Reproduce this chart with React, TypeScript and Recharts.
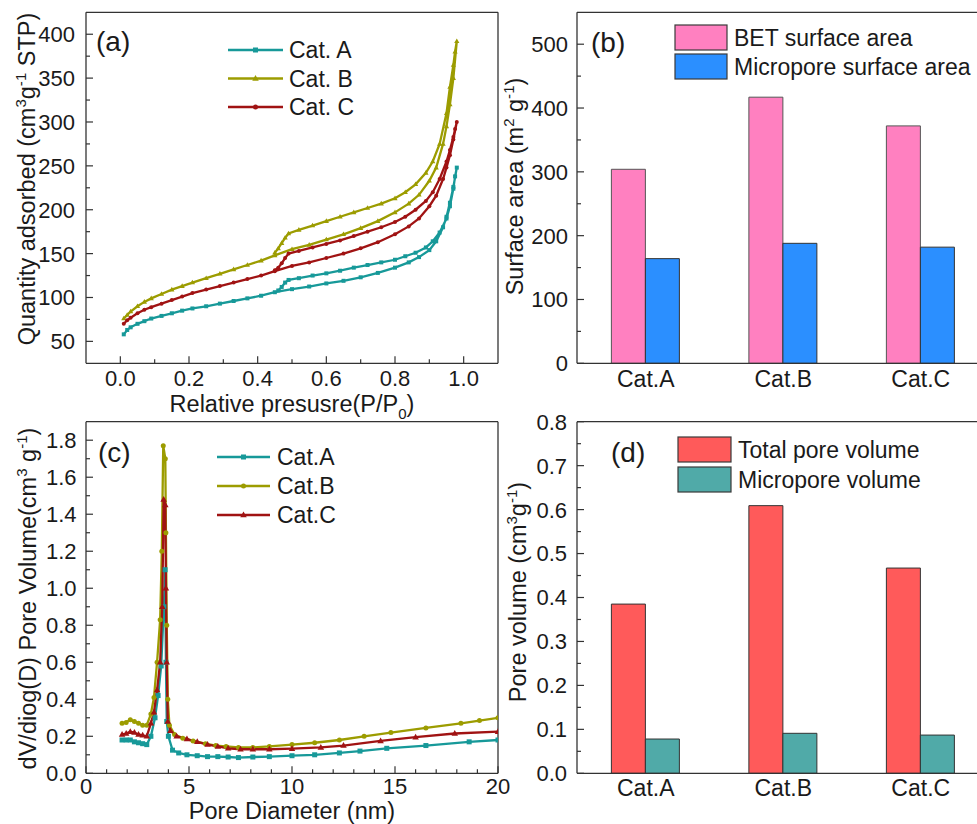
import React from 'react';
import { LineChart, Line, XAxis, YAxis, BarChart, Bar, Legend, ReferenceLine } from 'recharts';

const FONT = '"Liberation Sans", Arial, Helvetica, sans-serif';
const INK = '#1a1a1a';
const AXIS = '#333333';
const TICK_FS = 22;
const TITLE_FS = 23.5;
const LEG_FS = 23;

// ---------- Panel (a): N2 isotherms [P/P0, quantity adsorbed]
const isoA_ads: [number, number][] = [
  [0.01, 58], [0.02, 63], [0.03, 66], [0.05, 70], [0.07, 73], [0.09, 76], [0.12, 79], [0.15, 82],
  [0.18, 85], [0.21, 87.5], [0.25, 90], [0.29, 93], [0.33, 96], [0.37, 99], [0.41, 102], [0.45, 106],
  [0.5, 109.5], [0.55, 112.5], [0.6, 116], [0.65, 119], [0.7, 123], [0.75, 128], [0.8, 134], [0.84, 140],
  [0.87, 146], [0.9, 154], [0.92, 164], [0.94, 180], [0.95, 192], [0.96, 208], [0.97, 226], [0.98, 248],
];
const isoA_des: [number, number][] = [
  [0.975, 238], [0.97, 224], [0.96, 204], [0.95, 190], [0.93, 174], [0.91, 164], [0.89, 157], [0.86, 151],
  [0.83, 147], [0.8, 143], [0.76, 140], [0.72, 137], [0.68, 134], [0.64, 130.5], [0.6, 127.5], [0.56, 125],
  [0.52, 122], [0.49, 120], [0.48, 117], [0.47, 112], [0.46, 108],
];
const isoB_ads: [number, number][] = [
  [0.01, 76], [0.02, 80], [0.03, 84], [0.05, 90], [0.07, 95], [0.09, 99], [0.12, 104], [0.15, 109],
  [0.18, 113], [0.21, 117], [0.25, 122], [0.29, 127], [0.33, 132], [0.37, 137], [0.41, 142], [0.45, 148],
  [0.5, 155], [0.55, 160], [0.6, 166], [0.65, 172], [0.7, 179], [0.75, 187], [0.8, 197], [0.84, 207],
  [0.87, 217], [0.9, 233], [0.92, 248], [0.94, 275], [0.95, 295], [0.96, 320], [0.97, 350], [0.98, 392],
];
const isoB_des: [number, number][] = [
  [0.975, 380], [0.97, 365], [0.96, 340], [0.95, 310], [0.93, 275], [0.91, 255], [0.89, 242], [0.86, 229],
  [0.83, 220], [0.8, 213], [0.76, 207], [0.72, 202], [0.68, 197], [0.64, 192], [0.6, 187], [0.56, 182],
  [0.52, 177], [0.49, 173], [0.48, 168], [0.47, 162], [0.46, 156], [0.45, 151],
];
const isoC_ads: [number, number][] = [
  [0.01, 70], [0.02, 74], [0.03, 77], [0.05, 82], [0.07, 86], [0.09, 89], [0.12, 93], [0.15, 97],
  [0.18, 101], [0.21, 105], [0.25, 109], [0.29, 113], [0.33, 117], [0.37, 121], [0.41, 125], [0.45, 130],
  [0.5, 136], [0.55, 140], [0.6, 145], [0.65, 150], [0.7, 156], [0.75, 163], [0.8, 172], [0.84, 181],
  [0.87, 190], [0.9, 204], [0.92, 216], [0.94, 235], [0.95, 248], [0.96, 262], [0.97, 280], [0.98, 300],
];
const isoC_des: [number, number][] = [
  [0.975, 292], [0.97, 283], [0.96, 268], [0.95, 255], [0.93, 235], [0.91, 220], [0.89, 210], [0.86, 200],
  [0.83, 192], [0.8, 186], [0.76, 180], [0.72, 175], [0.68, 170], [0.64, 165], [0.6, 161], [0.56, 157],
  [0.52, 153], [0.49, 150], [0.48, 145], [0.47, 139], [0.46, 134], [0.45, 131],
];

// ---------- Panel (b): surface areas
const categories = ['Cat.A', 'Cat.B', 'Cat.C'];
const betArea = [304, 417, 372];
const microArea = [164, 188, 182];

// ---------- Panel (c): pore size distributions [D (nm), dV/dlog(D)]
const psdA: [number, number][] = [
  [1.75, 0.18], [1.95, 0.18], [2.15, 0.18], [2.35, 0.17], [2.55, 0.165], [2.75, 0.16], [2.95, 0.155],
  [3.15, 0.2], [3.35, 0.3], [3.5, 0.42], [3.65, 0.58], [3.78, 0.9], [3.84, 1.1], [3.88, 0.6], [3.92, 0.28],
  [4.0, 0.2], [4.2, 0.125], [4.5, 0.11], [4.9, 0.1], [5.4, 0.095], [5.9, 0.09], [6.4, 0.09], [6.9, 0.088],
  [7.4, 0.085], [8.1, 0.088], [8.9, 0.09], [10.0, 0.095], [11.1, 0.1], [12.3, 0.11], [13.3, 0.12],
  [14.6, 0.135], [16.5, 0.15], [18.6, 0.17], [20, 0.18],
];
const psdB: [number, number][] = [
  [1.75, 0.27], [1.95, 0.275], [2.15, 0.29], [2.35, 0.28], [2.55, 0.27], [2.75, 0.26], [2.95, 0.26],
  [3.15, 0.32], [3.3, 0.41], [3.45, 0.6], [3.6, 0.83], [3.68, 1.2], [3.75, 1.77], [3.85, 1.7], [3.88, 1.3],
  [3.92, 0.8], [3.97, 0.4], [4.05, 0.26], [4.3, 0.21], [4.7, 0.19], [5.2, 0.175], [5.8, 0.16], [6.3, 0.15],
  [6.8, 0.145], [7.4, 0.14], [8.1, 0.14], [8.9, 0.145], [10.0, 0.155], [11.1, 0.165], [12.3, 0.18],
  [13.5, 0.2], [14.8, 0.22], [16.5, 0.245], [18.2, 0.27], [19.1, 0.285], [20, 0.3],
];
const psdC: [number, number][] = [
  [1.75, 0.21], [1.95, 0.215], [2.15, 0.225], [2.35, 0.22], [2.55, 0.21], [2.75, 0.205], [2.95, 0.2],
  [3.15, 0.27], [3.3, 0.33], [3.45, 0.45], [3.6, 0.6], [3.7, 0.9], [3.77, 1.48], [3.85, 1.45], [3.88, 1.0],
  [3.92, 0.6], [3.97, 0.28], [4.1, 0.23], [4.4, 0.2], [4.9, 0.185], [5.4, 0.17], [5.9, 0.155], [6.4, 0.145],
  [6.9, 0.135], [7.5, 0.13], [8.1, 0.13], [8.9, 0.13], [10.0, 0.133], [11.4, 0.14], [12.5, 0.15],
  [14.3, 0.175], [16.0, 0.195], [17.9, 0.215], [20, 0.225],
];

// ---------- Panel (d): pore volumes
const totalPoreVol = [0.385, 0.609, 0.467];
const microPoreVol = [0.078, 0.091, 0.087];

// ---------- tick lists
const aXMajor = [0, 0.2, 0.4, 0.6, 0.8, 1.0];
const aXMinor = [0.1, 0.3, 0.5, 0.7, 0.9];
const aYMajor = [50, 100, 150, 200, 250, 300, 350, 400];
const aYMinor = [75, 125, 175, 225, 275, 325, 375];
const bYMajor = [0, 100, 200, 300, 400, 500];
const bYMinor = [50, 150, 250, 350, 450];
const cXMajor = [0, 5, 10, 15, 20];
const cXMinor = [1, 2, 3, 4, 6, 7, 8, 9, 11, 12, 13, 14, 16, 17, 18, 19];
const cYMajor = [0, 0.2, 0.4, 0.6, 0.8, 1.0, 1.2, 1.4, 1.6, 1.8];
const cYMinor = [0.1, 0.3, 0.5, 0.7, 0.9, 1.1, 1.3, 1.5, 1.7];
const dYMajor = [0, 0.1, 0.2, 0.3, 0.4, 0.5, 0.6, 0.7, 0.8];
const dYMinor = [0.05, 0.15, 0.25, 0.35, 0.45, 0.55, 0.65, 0.75];

const isoNames = ['Cat. A', 'Cat. B', 'Cat. C'];
const psdNames = ['Cat.A', 'Cat.B', 'Cat.C'];
const lineColors = ['#179999', '#9c9c00', '#a01313'];
type Shape = 'square' | 'triangle' | 'circle';
const isoShapes: Shape[] = ['square', 'triangle', 'circle'];
const psdShapes: Shape[] = ['square', 'circle', 'triangle'];

const surfNames = ['BET surface area', 'Micropore surface area'];
const surfColors = ['#ff80c0', '#2b8fff'];
const volNames = ['Total pore volume', 'Micropore volume'];
const volColors = ['#ff5a5a', '#50aaa8'];

const toPts = (arr: [number, number][]) => arr.map(([x, y]) => ({ x, y }));
const isoData = [
  toPts([...isoA_ads, ...isoA_des]),
  toPts([...isoB_ads, ...isoB_des]),
  toPts([...isoC_ads, ...isoC_des]),
];
const psdData = [toPts(psdA), toPts(psdB), toPts(psdC)];
const surfaceRows = categories.map((c, i) => ({ cat: c, bet: betArea[i], micro: microArea[i] }));
const volumeRows = categories.map((c, i) => ({ cat: c, total: totalPoreVol[i], micro: microPoreVol[i] }));

function marker(shape: Shape, color: string, s: number, cx: number, cy: number, key?: any) {
  if (shape === 'square') return <rect key={key} x={cx - s / 2} y={cy - s / 2} width={s} height={s} fill={color} />;
  if (shape === 'triangle')
    return <path key={key} d={`M${cx},${cy - s * 0.7}L${cx + s * 0.65},${cy + s * 0.45}L${cx - s * 0.65},${cy + s * 0.45}Z`} fill={color} />;
  return <circle key={key} cx={cx} cy={cy} r={s / 2} fill={color} />;
}
const dotFn = (shape: Shape, color: string, s: number) => (p: any) => {
  const k = p.key ?? `d${p.index}`;
  if (p.cx == null || p.cy == null) return <g key={k} />;
  return marker(shape, color, s, p.cx, p.cy, k);
};

const isMajor = (majors: number[], v: number) => majors.some((m) => Math.abs(m - v) < 1e-9);

function yTick(plotX: number, majors: number[], fmt: (v: number) => string, gap: number) {
  return (p: any) => {
    const v = p.payload.value;
    const y = p.payload.coordinate ?? p.y;
    const mj = isMajor(majors, v);
    return (
      <g>
        <line x1={plotX} x2={plotX + (mj ? 7 : 4)} y1={y} y2={y} stroke={AXIS} strokeWidth={1.2} />
        {mj && (
          <text x={plotX - gap} y={y + TICK_FS * 0.36} textAnchor="end" fontSize={TICK_FS} fontFamily={FONT} fill={INK}>
            {fmt(v)}
          </text>
        )}
      </g>
    );
  };
}
function xTick(plotY: number, majors: number[], fmt: (v: any) => string, baseline: number, fs: number, lines = true) {
  return (p: any) => {
    const v = p.payload.value;
    const x = p.payload.coordinate ?? p.x;
    const mj = lines ? isMajor(majors, v) : true;
    return (
      <g>
        {lines && <line x1={x} x2={x} y1={plotY} y2={plotY - (mj ? 7 : 4)} stroke={AXIS} strokeWidth={1.2} />}
        {mj && (
          <text x={x} y={baseline} textAnchor="middle" fontSize={fs} fontFamily={FONT} fill={INK}>
            {fmt(v)}
          </text>
        )}
      </g>
    );
  };
}

type Part = { t: string; s?: 'sup' | 'sub' };
function titleText(parts: Part[], fs: number) {
  const out: any[] = [];
  let shift = 0;
  parts.forEach((pt, i) => {
    const target = pt.s === 'sup' ? -fs * 0.4 : pt.s === 'sub' ? fs * 0.3 : 0;
    out.push(
      <tspan key={i} dy={target - shift} fontSize={pt.s ? fs * 0.64 : fs}>
        {pt.t}
      </tspan>
    );
    shift = target;
  });
  return out;
}
const yTitle = (x: number, y: number, parts: Part[]) => () => (
  <text x={x} y={y} transform={`rotate(-90, ${x}, ${y})`} textAnchor="middle" fontSize={TITLE_FS} fontFamily={FONT} fill={INK}>
    {titleText(parts, TITLE_FS)}
  </text>
);
const xTitle = (x: number, y: number, parts: Part[]) => () => (
  <text x={x} y={y} textAnchor="middle" fontSize={TITLE_FS} fontFamily={FONT} fill={INK}>
    {titleText(parts, TITLE_FS)}
  </text>
);

function lineLegend(names: string[], shapes: Shape[], x1: number, x2: number, textX: number, rows: number[], w: number, h: number) {
  return () => (
    <svg width={w} height={h} style={{ display: 'block' }}>
      {names.map((n, i) => (
        <g key={n}>
          <line x1={x1} x2={x2} y1={rows[i]} y2={rows[i]} stroke={lineColors[i]} strokeWidth={2.6} />
          {marker(shapes[i], lineColors[i], 5, (x1 + x2) / 2, rows[i])}
          <text x={textX} y={rows[i] + LEG_FS * 0.36} fontSize={LEG_FS} fontFamily={FONT} fill={INK}>
            {n}
          </text>
        </g>
      ))}
    </svg>
  );
}
function boxLegend(names: string[], colors: string[], bx: number, bw: number, tops: number[], bh: number, textX: number, w: number, h: number) {
  return () => (
    <svg width={w} height={h} style={{ display: 'block' }}>
      {names.map((n, i) => (
        <g key={n}>
          <rect x={bx} y={tops[i]} width={bw} height={bh} fill={colors[i]} stroke="#3a3a3a" strokeWidth={1.2} />
          <text x={textX} y={tops[i] + bh / 2 + LEG_FS * 0.36} fontSize={LEG_FS} fontFamily={FONT} fill={INK}>
            {n}
          </text>
        </g>
      ))}
    </svg>
  );
}

const axisLine = { stroke: AXIS, strokeWidth: 1.3 };
const fmt1 = (v: number) => v.toFixed(1);
const fmt0 = (v: number) => String(Math.round(v));

export default function App() {
  return (
    <div style={{ position: 'fixed', left: 0, top: 0, width: 977, height: 824, overflow: 'hidden', background: '#fff' }}>
      {/* (a) */}
      <div style={{ position: 'absolute', left: 0, top: 0 }}>
        <LineChart width={510} height={432} margin={{ top: 12.3, right: 12, bottom: 0, left: 0 }}>
          <XAxis
            dataKey="x" type="number" domain={[-0.1, 1.1]} allowDataOverflow
            ticks={[...aXMajor, ...aXMinor]} interval={0} tickLine={false} height={68.7} axisLine={axisLine}
            tick={xTick(363.3, aXMajor, fmt1, 386, TICK_FS)}
            label={xTitle(292, 412, [{ t: 'Relative presusre(P/P' }, { t: '0', s: 'sub' }, { t: ')' }])}
          />
          <YAxis
            type="number" domain={[25, 425]} allowDataOverflow width={86}
            ticks={[...aYMajor, ...aYMinor]} interval={0} tickLine={false} axisLine={axisLine}
            tick={yTick(86, aYMajor, fmt0, 11)}
            label={yTitle(35, 179, [{ t: 'Quantity adsorbed (cm' }, { t: '3', s: 'sup' }, { t: 'g' }, { t: '-1', s: 'sup' }, { t: ' STP)' }])}
          />
          <ReferenceLine y={425} stroke={AXIS} strokeWidth={1.3} ifOverflow="visible" />
          <ReferenceLine x={1.1} stroke={AXIS} strokeWidth={1.3} ifOverflow="visible" />
          {isoData.map((d, i) => (
            <Line key={isoNames[i]} name={isoNames[i]} data={d} dataKey="y" stroke={lineColors[i]} strokeWidth={2.3}
              dot={dotFn(isoShapes[i], lineColors[i], 4)} activeDot={false} isAnimationActive={false} />
          ))}
          <Legend layout="vertical" align="center" verticalAlign="middle"
            wrapperStyle={{ left: 0, top: 0, width: 510, height: 140, pointerEvents: 'none' }}
            content={lineLegend(isoNames, isoShapes, 228, 283, 289, [50, 78.5, 107], 510, 140)} />
        </LineChart>
      </div>

      {/* (b) */}
      <div style={{ position: 'absolute', left: 490, top: 0 }}>
        <BarChart width={510} height={420} data={surfaceRows} margin={{ top: 12.3, right: 10.5, bottom: 0, left: 0 }}
          barCategoryGap="25%" barGap={0}>
          <XAxis dataKey="cat" height={56.7} tickLine={false} interval={0} axisLine={axisLine}
            tick={xTick(363.3, [], (v) => String(v), 386.7, 23, false)} />
          <YAxis type="number" domain={[0, 550]} allowDataOverflow width={87}
            ticks={[...bYMajor, ...bYMinor]} interval={0} tickLine={false} axisLine={axisLine}
            tick={yTick(87, bYMajor, fmt0, 9)}
            label={yTitle(33, 186.5, [{ t: 'Surface area (m' }, { t: '2', s: 'sup' }, { t: ' g' }, { t: '-1', s: 'sup' }, { t: ')' }])}
          />
          <ReferenceLine y={550} stroke={AXIS} strokeWidth={1.3} ifOverflow="visible" />
          <Bar dataKey="bet" name={surfNames[0]} fill={surfColors[0]} stroke="#555" strokeWidth={1} isAnimationActive={false} />
          <Bar dataKey="micro" name={surfNames[1]} fill={surfColors[1]} stroke="#333" strokeWidth={1} isAnimationActive={false} />
          <Legend layout="vertical" align="center" verticalAlign="middle"
            wrapperStyle={{ left: 0, top: 0, width: 510, height: 100, pointerEvents: 'none' }}
            content={boxLegend(surfNames, surfColors, 185, 52, [25, 54], 25, 244, 510, 100)} />
        </BarChart>
      </div>

      {/* (c) */}
      <div style={{ position: 'absolute', left: 0, top: 400 }}>
        <LineChart width={510} height={424} margin={{ top: 21.7, right: 12, bottom: 0, left: 0 }}>
          <XAxis
            dataKey="x" type="number" domain={[0, 20]} allowDataOverflow
            ticks={[...cXMajor, ...cXMinor]} interval={0} tickLine={false} height={50.7} axisLine={axisLine}
            tick={xTick(373.3, cXMajor, fmt0, 393.5, TICK_FS)}
            label={xTitle(292, 418.5, [{ t: 'Pore Diameter (nm)' }])}
          />
          <YAxis
            type="number" domain={[0, 1.9]} allowDataOverflow width={86}
            ticks={[...cYMajor, ...cYMinor]} interval={0} tickLine={false} axisLine={axisLine}
            tick={yTick(86, cYMajor, fmt1, 9.5)}
            label={yTitle(36, 198.5, [{ t: 'dV/diog(D) Pore Volume(cm' }, { t: '3', s: 'sup' }, { t: ' g' }, { t: '-1', s: 'sup' }, { t: ')' }])}
          />
          <ReferenceLine y={1.9} stroke={AXIS} strokeWidth={1.3} ifOverflow="visible" />
          <ReferenceLine x={20} stroke={AXIS} strokeWidth={1.3} ifOverflow="visible" />
          {psdData.map((d, i) => (
            <Line key={psdNames[i]} name={psdNames[i]} data={d} dataKey="y" stroke={lineColors[i]} strokeWidth={2.3}
              dot={dotFn(psdShapes[i], lineColors[i], 5)} activeDot={false} isAnimationActive={false} />
          ))}
          <Legend layout="vertical" align="center" verticalAlign="middle"
            wrapperStyle={{ left: 0, top: 0, width: 510, height: 140, pointerEvents: 'none' }}
            content={lineLegend(psdNames, psdShapes, 217, 270, 277, [57, 86, 115], 510, 140)} />
        </LineChart>
      </div>

      {/* (d) */}
      <div style={{ position: 'absolute', left: 490, top: 400 }}>
        <BarChart width={510} height={424} data={volumeRows} margin={{ top: 21.7, right: 10.5, bottom: 0, left: 0 }}
          barCategoryGap="25%" barGap={0}>
          <XAxis dataKey="cat" height={50.7} tickLine={false} interval={0} axisLine={axisLine}
            tick={xTick(373.3, [], (v) => String(v), 396, 23, false)} />
          <YAxis type="number" domain={[0, 0.8]} allowDataOverflow width={87}
            ticks={[...dYMajor, ...dYMinor]} interval={0} tickLine={false} axisLine={axisLine}
            tick={yTick(87, dYMajor, fmt1, 10)}
            label={yTitle(36, 192, [{ t: 'Pore volume (cm' }, { t: '3', s: 'sup' }, { t: 'g' }, { t: '-1', s: 'sup' }, { t: ')' }])}
          />
          <ReferenceLine y={0.8} stroke={AXIS} strokeWidth={1.3} ifOverflow="visible" />
          <Bar dataKey="total" name={volNames[0]} fill={volColors[0]} stroke="#333" strokeWidth={1} isAnimationActive={false} />
          <Bar dataKey="micro" name={volNames[1]} fill={volColors[1]} stroke="#333" strokeWidth={1} isAnimationActive={false} />
          <Legend layout="vertical" align="center" verticalAlign="middle"
            wrapperStyle={{ left: 0, top: 0, width: 510, height: 110, pointerEvents: 'none' }}
            content={boxLegend(volNames, volColors, 188, 53, [37, 67], 25, 248, 510, 110)} />
        </BarChart>
      </div>

      {/* panel labels */}
      <svg width={977} height={824} style={{ position: 'absolute', left: 0, top: 0, pointerEvents: 'none' }}>
        <text x={96} y={51} fontSize={28} fontFamily={FONT} fill={INK}>(a)</text>
        <text x={591} y={52} fontSize={28} fontFamily={FONT} fill={INK}>(b)</text>
        <text x={98} y={462} fontSize={28} fontFamily={FONT} fill={INK}>(c)</text>
        <text x={611} y={462} fontSize={28} fontFamily={FONT} fill={INK}>(d)</text>
      </svg>
    </div>
  );
}
